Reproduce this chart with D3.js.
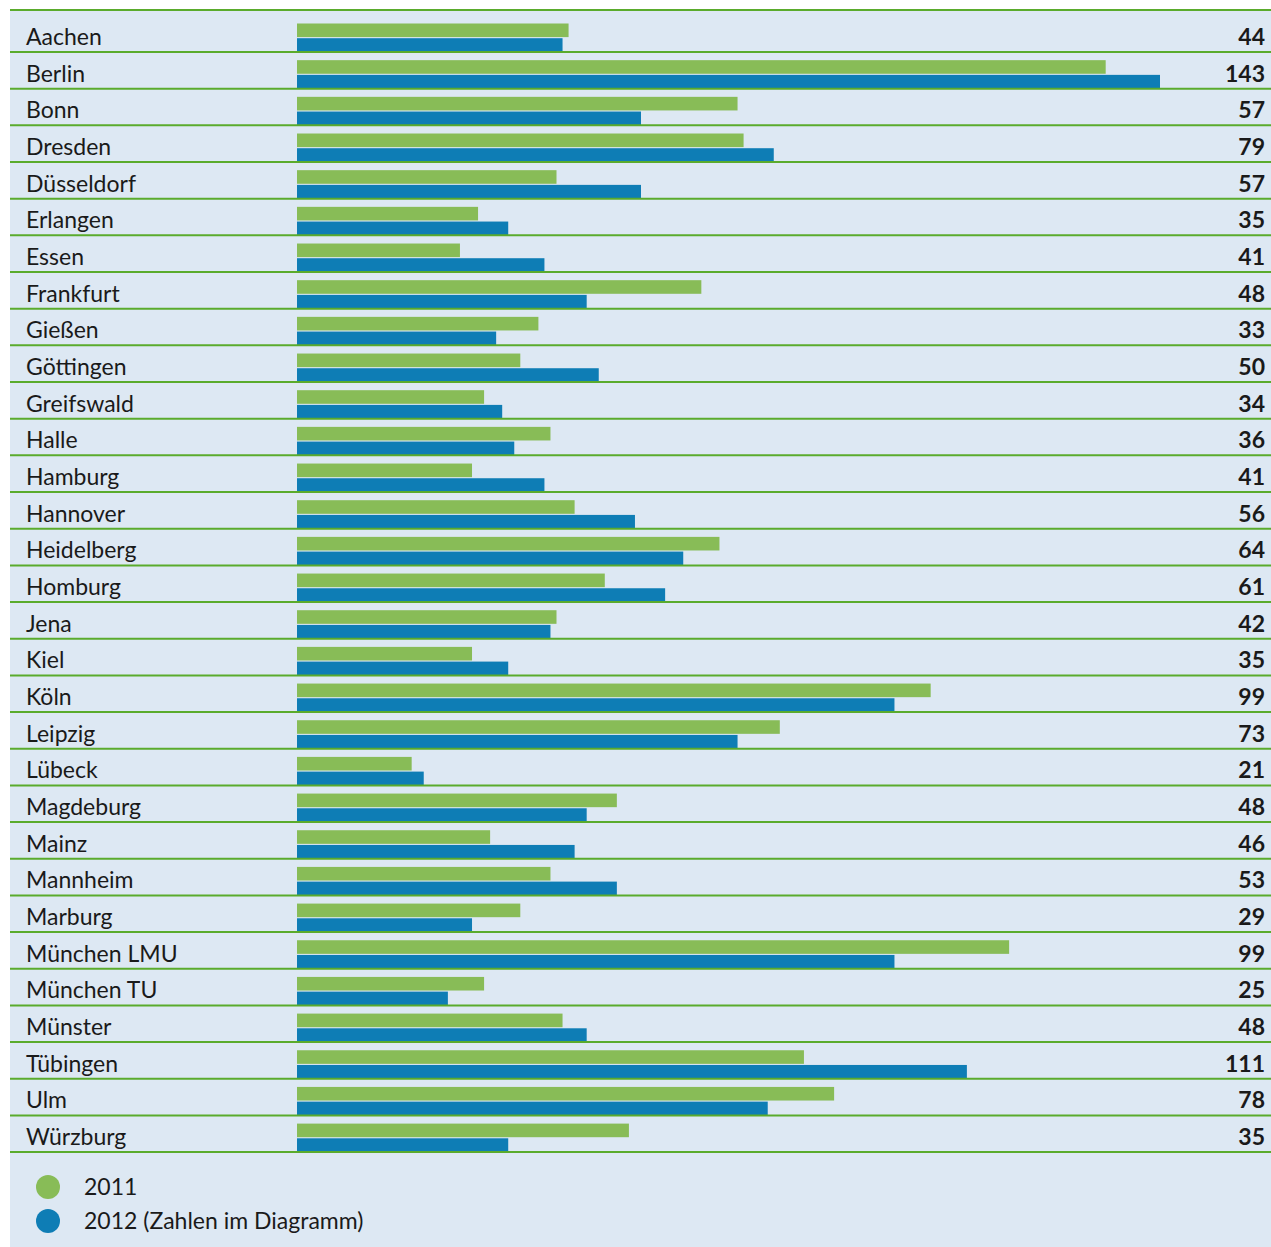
<!DOCTYPE html>
<html>
<head>
<meta charset="utf-8">
<script src="https://cdn.jsdelivr.net/npm/d3@7"></script>
<style>
  body { margin: 0; background: #fff; }
  svg { display: block; }
  text { font-family: "Lato", "Noto Sans", sans-serif; fill: #1a1a1a; }
</style>
</head>
<body>
<div id="chart"></div>
<script>
var cities = ["Aachen","Berlin","Bonn","Dresden","Düsseldorf","Erlangen","Essen","Frankfurt","Gießen","Göttingen","Greifswald","Halle","Hamburg","Hannover","Heidelberg","Homburg","Jena","Kiel","Köln","Leipzig","Lübeck","Magdeburg","Mainz","Mannheim","Marburg","München LMU","München TU","Münster","Tübingen","Ulm","Würzburg"];
var values2011 = [45,134,73,74,43,30,27,67,40,37,31,42,29,46,70,51,43,29,105,80,19,53,32,42,37,118,31,44,84,89,55];
var values2012 = [44,143,57,79,57,35,41,48,33,50,34,36,41,56,64,61,42,35,99,73,21,48,46,53,29,99,25,48,111,78,35];
var legendLabels = ["2011", "2012 (Zahlen im Diagramm)"];

var width = 1271, height = 1247;
var green = "#88bc57", blue = "#0e7db5", lineGreen = "#5aab2c";

var svg = d3.select("#chart").append("svg")
    .attr("width", width)
    .attr("height", height);

svg.append("rect")
    .attr("x", 10).attr("y", 10)
    .attr("width", width - 10).attr("height", height - 10)
    .attr("fill", "#dde8f3");

var step = 36.67;
var y = d3.scaleBand()
    .domain(cities)
    .range([52 - step, 52 - step + step * cities.length])
    .padding(0);

var x = d3.scaleLinear()
    .domain([0, 143])
    .range([297, 1160]);

var rows = svg.selectAll("g.row")
    .data(cities)
  .enter().append("g")
    .attr("class", "row")
    .attr("transform", function(d) { return "translate(0," + (y(d) + y.bandwidth()) + ")"; });

// 2011 bars
rows.append("rect")
    .attr("x", x(0))
    .attr("y", -28.5)
    .attr("height", 13.6)
    .attr("width", function(d, i) { return x(values2011[i]) - x(0); })
    .attr("fill", green);

// 2012 bars
rows.append("rect")
    .attr("x", x(0))
    .attr("y", -13.8)
    .attr("height", 13.8)
    .attr("width", function(d, i) { return x(values2012[i]) - x(0); })
    .attr("fill", blue);

// separator lines
rows.append("line")
    .attr("x1", 10).attr("x2", width)
    .attr("y1", 0).attr("y2", 0)
    .attr("stroke", lineGreen)
    .attr("stroke-width", 2);

svg.append("line")
    .attr("x1", 10).attr("x2", width)
    .attr("y1", 10).attr("y2", 10)
    .attr("stroke", lineGreen)
    .attr("stroke-width", 2);

rows.append("text")
    .attr("x", 26)
    .attr("y", -7)
    .style("font-size", "23px")
    .text(function(d) { return d; });

rows.append("text")
    .attr("x", 1265)
    .attr("y", -7)
    .attr("text-anchor", "end")
    .style("font-size", "23px")
    .style("font-weight", "bold")
    .text(function(d, i) { return values2012[i]; });

// legend
var legend = svg.selectAll("g.legend")
    .data(legendLabels)
  .enter().append("g")
    .attr("class", "legend")
    .attr("transform", function(d, i) { return "translate(0," + (1187 + i * 34) + ")"; });

legend.append("circle")
    .attr("cx", 48).attr("cy", 0).attr("r", 12)
    .attr("fill", function(d, i) { return i == 0 ? green : blue; });

legend.append("text")
    .attr("x", 84)
    .attr("y", 8)
    .style("font-size", "23px")
    .text(function(d) { return d; });
</script>
</body>
</html>
